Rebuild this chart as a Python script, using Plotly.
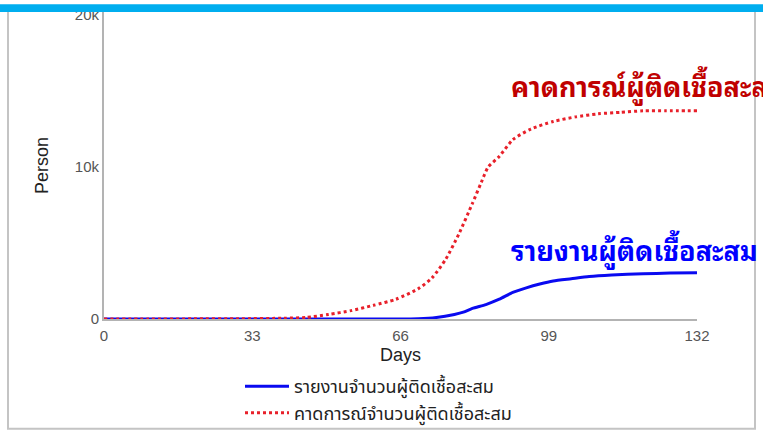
import plotly.graph_objects as go

# Data (values in persons)
days_forecast = [0, 10, 20, 30, 40, 45, 50, 55, 60, 65, 70, 73, 76, 79, 82, 84, 85.5, 88, 91, 95, 100, 105, 110, 115, 120, 125, 132]
forecast = [0, 0, 10, 20, 50, 100, 300, 550, 900, 1300, 2000, 2700, 3900, 5600, 7600, 9000, 10000, 10700, 11800, 12500, 13000, 13300, 13500, 13600, 13700, 13700, 13700]

days_report = [0, 20, 40, 60, 70, 74, 78, 80, 82, 85, 88, 91, 94, 97, 100, 104, 108, 113, 120, 126, 132]
report = [0, 0, 0, 0, 20, 100, 300, 450, 700, 950, 1300, 1750, 2050, 2300, 2500, 2650, 2800, 2900, 2980, 3020, 3050]

name_report = "รายงานจำนวนผู้ติดเชื้อสะสม"
name_forecast = "คาดการณ์จำนวนผู้ติดเชื้อสะสม"
label_forecast = "คาดการณ์ผู้ติดเชื้อสะสม"
label_report = "รายงานผู้ติดเชื้อสะสม"
x_ticks = [0, 33, 66, 99, 132]
y_ticks = [0, 10000, 20000]
y_tick_text = ["0", "10k", "20k"]

W, H = 763, 439
L, R, T, B = 104, 66, 6, 120
PW, PH = W - L - R, H - T - B

thai_font = "Noto Sans Thai, Noto Sans Thai Looped, Loma, Garuda, Noto Sans, sans-serif"
thai_looped = "Noto Sans Thai Looped, Noto Sans Thai, Loma, Garuda, sans-serif"
axis_font = "Liberation Sans, Arial, sans-serif"


def px_x(p):
    return (p - L) / PW


def px_y(p):
    return (H - B - p) / PH


fig = go.Figure()
fig.add_trace(go.Scatter(
    x=days_report, y=report, mode="lines", name=name_report,
    line=dict(color="#0A0AF0", width=3, shape="spline", smoothing=0.6),
))
fig.add_trace(go.Scatter(
    x=days_forecast, y=forecast, mode="lines", name=name_forecast,
    line=dict(color="#E8202A", width=3, dash="dot", shape="spline", smoothing=0.6),
))

fig.update_layout(
    width=W, height=H,
    margin=dict(l=L, r=R, t=T, b=B),
    paper_bgcolor="white", plot_bgcolor="white",
    showlegend=True,
    legend=dict(
        orientation="v", x=px_x(240), xanchor="left", y=px_y(369), yanchor="top",
        font=dict(family=thai_font, size=18, color="#222"),
        tracegroupgap=0, itemwidth=44, bgcolor="rgba(0,0,0,0)",
    ),
    xaxis=dict(
        range=[0, 132], tickvals=x_ticks, showgrid=False, zeroline=False,
        showline=True, linecolor="#b3b3b3", linewidth=2, ticks="",
        ticklabelstandoff=2,
        tickfont=dict(family=axis_font, size=15, color="#555"),
        title=dict(text="Days", font=dict(family=axis_font, size=18, color="#222"), standoff=5),
    ),
    yaxis=dict(
        range=[0, 20200], tickvals=y_ticks, ticktext=y_tick_text, showgrid=False, zeroline=False,
        showline=True, linecolor="#b3b3b3", linewidth=2, ticks="",
        tickfont=dict(family=axis_font, size=15, color="#555"),
        title=dict(text="Person", font=dict(family=axis_font, size=18, color="#222"), standoff=22),
    ),
    shapes=[
        dict(type="rect", xref="paper", yref="paper",
             x0=px_x(8), x1=px_x(755), y0=px_y(431), y1=px_y(2),
             line=dict(color="#c4c4c4", width=2), fillcolor="rgba(0,0,0,0)", layer="below"),
        dict(type="rect", xref="paper", yref="paper",
             x0=px_x(0), x1=px_x(W), y0=px_y(6), y1=px_y(-2),
             line=dict(width=0), fillcolor="#00AEEF", layer="above"),
    ],
    annotations=[
        dict(text=label_forecast, xref="paper", yref="paper",
             x=px_x(509), xanchor="left", y=px_y(80), yanchor="middle",
             showarrow=False, font=dict(family=thai_looped, size=27, weight="bold", color="#C00000")),
        dict(text=label_report, xref="paper", yref="paper",
             x=px_x(509), xanchor="left", y=px_y(247), yanchor="middle",
             showarrow=False, font=dict(family=thai_looped, size=27, weight="bold", color="#0000FF")),
    ],
)

fig.write_html("out.html", config={"displayModeBar": False},
               post_script="document.body.style.margin='0';")
